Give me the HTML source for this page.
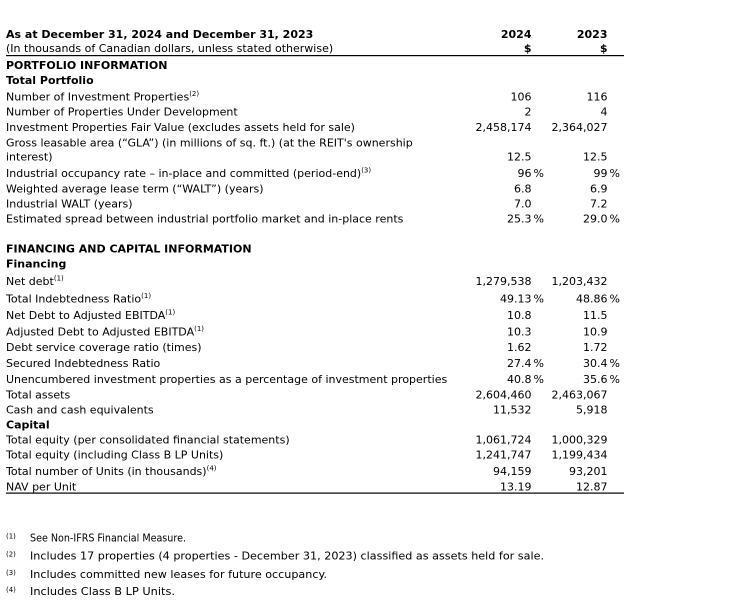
<!DOCTYPE html>
<html>
<head>
<meta charset="utf-8">
<style>
  html,body{margin:0;padding:0;background:#fff;}
  svg{display:block;}
  text{font-family:"DejaVu Sans","Liberation Sans",sans-serif;font-size:11px;fill:#000;}
  .b{font-weight:bold;}
  .v{text-anchor:end;}
  .sup{font-size:7px;}
  .fn{font-size:11px;}
</style>
</head>
<body>
<svg width="744" height="613" viewBox="0 0 744 613" xmlns="http://www.w3.org/2000/svg">
  <rect width="744" height="613" fill="#fff"/>

  <!-- Header -->
  <text class="b" x="6" y="38">As at December 31, 2024 and December 31, 2023</text>
  <text x="6" y="52">(In thousands of Canadian dollars, unless stated otherwise)</text>
  <text class="b v" x="531.5" y="38">2024</text>
  <text class="b v" x="607.5" y="38">2023</text>
  <text class="b v" x="531.5" y="52">$</text>
  <text class="b v" x="607.5" y="52">$</text>
  <rect x="6" y="55" width="618" height="1.2" fill="#000"/>

  <!-- Portfolio -->
  <text class="b" x="6" y="69">PORTFOLIO INFORMATION</text>
  <text class="b" x="6" y="84">Total Portfolio</text>

  <text x="6" y="100.5">Number of Investment Properties<tspan class="sup" dy="-4.5">(2)</tspan></text>
  <text class="v" x="531.5" y="100.5">106</text>
  <text class="v" x="607.5" y="100.5">116</text>

  <text x="6" y="115.5">Number of Properties Under Development</text>
  <text class="v" x="531.5" y="115.5">2</text>
  <text class="v" x="607.5" y="115.5">4</text>

  <text x="6" y="131">Investment Properties Fair Value (excludes assets held for sale)</text>
  <text class="v" x="531.5" y="131">2,458,174</text>
  <text class="v" x="607.5" y="131">2,364,027</text>

  <text x="6" y="146.5">Gross leasable area (“GLA”) (in millions of sq. ft.) (at the REIT's ownership</text>
  <text x="6" y="160.5">interest)</text>
  <text class="v" x="531.5" y="160.5">12.5</text>
  <text class="v" x="607.5" y="160.5">12.5</text>

  <text x="6" y="177">Industrial occupancy rate – in-place and committed (period-end)<tspan class="sup" dy="-4.5">(3)</tspan></text>
  <text class="v" x="531.5" y="177">96</text><text x="533.5" y="177">%</text>
  <text class="v" x="607.5" y="177">99</text><text x="609.5" y="177">%</text>

  <text x="6" y="192.5">Weighted average lease term (“WALT”) (years)</text>
  <text class="v" x="531.5" y="192.5">6.8</text>
  <text class="v" x="607.5" y="192.5">6.9</text>

  <text x="6" y="207.5">Industrial WALT (years)</text>
  <text class="v" x="531.5" y="207.5">7.0</text>
  <text class="v" x="607.5" y="207.5">7.2</text>

  <text x="6" y="222.5">Estimated spread between industrial portfolio market and in-place rents</text>
  <text class="v" x="531.5" y="222.5">25.3</text><text x="533.5" y="222.5">%</text>
  <text class="v" x="607.5" y="222.5">29.0</text><text x="609.5" y="222.5">%</text>

  <!-- Financing -->
  <text class="b" x="6" y="252.5">FINANCING AND CAPITAL INFORMATION</text>
  <text class="b" x="6" y="267.5">Financing</text>

  <text x="6" y="285">Net debt<tspan class="sup" dy="-4.5">(1)</tspan></text>
  <text class="v" x="531.5" y="285">1,279,538</text>
  <text class="v" x="607.5" y="285">1,203,432</text>

  <text x="6" y="302.5">Total Indebtedness Ratio<tspan class="sup" dy="-4.5">(1)</tspan></text>
  <text class="v" x="531.5" y="302.5">49.13</text><text x="533.5" y="302.5">%</text>
  <text class="v" x="607.5" y="302.5">48.86</text><text x="609.5" y="302.5">%</text>

  <text x="6" y="319">Net Debt to Adjusted EBITDA<tspan class="sup" dy="-4.5">(1)</tspan></text>
  <text class="v" x="531.5" y="319">10.8</text>
  <text class="v" x="607.5" y="319">11.5</text>

  <text x="6" y="335.5">Adjusted Debt to Adjusted EBITDA<tspan class="sup" dy="-4.5">(1)</tspan></text>
  <text class="v" x="531.5" y="335.5">10.3</text>
  <text class="v" x="607.5" y="335.5">10.9</text>

  <text x="6" y="351">Debt service coverage ratio (times)</text>
  <text class="v" x="531.5" y="351">1.62</text>
  <text class="v" x="607.5" y="351">1.72</text>

  <text x="6" y="367">Secured Indebtedness Ratio</text>
  <text class="v" x="531.5" y="367">27.4</text><text x="533.5" y="367">%</text>
  <text class="v" x="607.5" y="367">30.4</text><text x="609.5" y="367">%</text>

  <text x="6" y="383">Unencumbered investment properties as a percentage of investment properties</text>
  <text class="v" x="531.5" y="383">40.8</text><text x="533.5" y="383">%</text>
  <text class="v" x="607.5" y="383">35.6</text><text x="609.5" y="383">%</text>

  <text x="6" y="398.5">Total assets</text>
  <text class="v" x="531.5" y="398.5">2,604,460</text>
  <text class="v" x="607.5" y="398.5">2,463,067</text>

  <text x="6" y="413.5">Cash and cash equivalents</text>
  <text class="v" x="531.5" y="413.5">11,532</text>
  <text class="v" x="607.5" y="413.5">5,918</text>

  <text class="b" x="6" y="428.5">Capital</text>

  <text x="6" y="443.5">Total equity (per consolidated financial statements)</text>
  <text class="v" x="531.5" y="443.5">1,061,724</text>
  <text class="v" x="607.5" y="443.5">1,000,329</text>

  <text x="6" y="458.5">Total equity (including Class B LP Units)</text>
  <text class="v" x="531.5" y="458.5">1,241,747</text>
  <text class="v" x="607.5" y="458.5">1,199,434</text>

  <text x="6" y="475">Total number of Units (in thousands)<tspan class="sup" dy="-4.5">(4)</tspan></text>
  <text class="v" x="531.5" y="475">94,159</text>
  <text class="v" x="607.5" y="475">93,201</text>

  <text x="6" y="490.5">NAV per Unit</text>
  <text class="v" x="531.5" y="490.5">13.19</text>
  <text class="v" x="607.5" y="490.5">12.87</text>

  <rect x="6" y="492.5" width="618" height="1.2" fill="#000"/>

  <!-- Footnotes -->
  <text class="sup" x="6" y="538.5">(1)</text>
  <text class="fn" x="30" y="541.5" textLength="156" lengthAdjust="spacingAndGlyphs">See Non-IFRS Financial Measure.</text>

  <text class="sup" x="6" y="556.5">(2)</text>
  <text class="fn" x="30" y="559.5" textLength="514" lengthAdjust="spacingAndGlyphs">Includes 17 properties (4 properties - December 31, 2023) classified as assets held for sale.</text>

  <text class="sup" x="6" y="575">(3)</text>
  <text class="fn" x="30" y="578" textLength="297" lengthAdjust="spacingAndGlyphs">Includes committed new leases for future occupancy.</text>

  <text class="sup" x="6" y="592">(4)</text>
  <text class="fn" x="30" y="595" textLength="145" lengthAdjust="spacingAndGlyphs">Includes Class B LP Units.</text>
</svg>
</body>
</html>
